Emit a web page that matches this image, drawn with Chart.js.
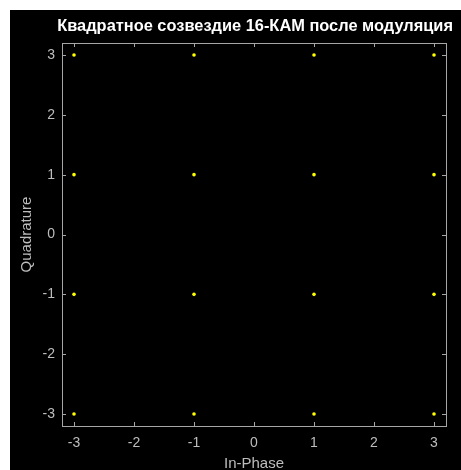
<!DOCTYPE html>
<html>
<head>
<meta charset="utf-8">
<script src="https://cdn.jsdelivr.net/npm/chart.js@4/dist/chart.umd.min.js"></script>
<style>
  html, body { margin: 0; padding: 0; background: #ffffff; overflow: hidden; }
  #wrap { position: absolute; left: 10px; top: 10px; width: 451px; height: 460px; background: #000000; }
  canvas { display: block; }
</style>
</head>
<body>
<div id="wrap"><canvas id="c" width="451" height="460"></canvas></div>
<script>
// 16-QAM constellation points (in-phase / quadrature components)
const inPhase    = [-3, -3, -3, -3, -1, -1, -1, -1,  1,  1,  1,  1,  3,  3,  3,  3];
const quadrature = [-3, -1,  1,  3, -3, -1,  1,  3, -3, -1,  1,  3, -3, -1,  1,  3];
const tickValues = [-3, -2, -1, 0, 1, 2, 3];
const axisMin = -3.2;
const axisMax = 3.2;

const titleText = 'Квадратное созвездие 16-КАМ после модуляция';
const xTitle = 'In-Phase';
const yTitle = 'Quadrature';

const axisColor = '#a6a6a6';
const labelColor = '#bdbdbd';
const fontFamily = 'Arial, "Liberation Sans", Helvetica, sans-serif';
const titleSize = 16.4;
const titlePadTop = 7;

const points = inPhase.map((v, i) => ({ x: v, y: quadrature[i] }));
const setTicks = scale => { scale.ticks = tickValues.map(v => ({ value: v })); };

// Inward-pointing tick marks on all four sides of the box
const innerTicks = {
  id: 'innerTicks',
  afterDraw(chart) {
    const { ctx, chartArea: a, scales } = chart;
    const len = 4;
    ctx.save();
    ctx.strokeStyle = axisColor;
    ctx.lineWidth = 1;
    ctx.beginPath();
    tickValues.forEach(v => {
      const px = Math.round(scales.x.getPixelForValue(v)) + 0.5;
      ctx.moveTo(px, a.bottom); ctx.lineTo(px, a.bottom - len);
      ctx.moveTo(px, a.top); ctx.lineTo(px, a.top + len);
      const py = Math.round(scales.y.getPixelForValue(v)) + 0.5;
      ctx.moveTo(a.left, py); ctx.lineTo(a.left + len, py);
      ctx.moveTo(a.right, py); ctx.lineTo(a.right - len, py);
    });
    ctx.stroke();
    ctx.restore();
  }
};

new Chart(document.getElementById('c'), {
  type: 'scatter',
  data: {
    datasets: [{
      data: points,
      backgroundColor: '#ffff00',
      borderWidth: 0,
      pointRadius: 1.8,
      pointHoverRadius: 1.8
    }]
  },
  options: {
    responsive: false,
    animation: false,
    layout: { padding: { left: 0, top: 0, bottom: 0, right: 8 } },
    plugins: {
      legend: { display: false },
      tooltip: { enabled: false },
      title: {
        display: true, text: titleText, color: '#ffffff', align: 'end',
        padding: { top: titlePadTop, bottom: 0 },
        font: { family: fontFamily, size: titleSize, weight: 'bold', lineHeight: 1.2 }
      }
    },
    scales: {
      x: {
        type: 'linear', position: 'bottom', min: axisMin, max: axisMax,
        afterBuildTicks: setTicks,
        afterFit: s => { s.height = 44; },
        grid: { display: false, drawTicks: false },
        border: { display: true, color: axisColor, width: 1 },
        ticks: { color: labelColor, padding: 9, font: { family: fontFamily, size: 14 } },
        title: { display: true, text: xTitle, color: labelColor, padding: { top: 0, bottom: 0 },
                 font: { family: fontFamily, size: 15, lineHeight: 0.8 } }
      },
      y: {
        type: 'linear', position: 'left', min: axisMin, max: axisMax,
        afterBuildTicks: setTicks,
        afterFit: s => { s.width = 52; },
        grid: { display: false, drawTicks: false },
        border: { display: true, color: axisColor, width: 1 },
        ticks: { color: labelColor, padding: 7, font: { family: fontFamily, size: 14 } },
        title: { display: true, text: yTitle, color: labelColor, padding: { top: 8, bottom: 0 },
                 font: { family: fontFamily, size: 15 } }
      },
      x2: {
        type: 'linear', position: 'top', min: axisMin, max: axisMax,
        afterBuildTicks: setTicks,
        afterFit: s => { s.height = 33 - (titlePadTop + titleSize * 1.2); },
        grid: { display: false, drawTicks: false },
        border: { display: true, color: axisColor, width: 1 },
        ticks: { display: false }
      },
      y2: {
        type: 'linear', position: 'right', min: axisMin, max: axisMax,
        afterBuildTicks: setTicks,
        afterFit: s => { s.width = 7; },
        grid: { display: false, drawTicks: false },
        border: { display: true, color: axisColor, width: 1 },
        ticks: { display: false }
      }
    }
  },
  plugins: [innerTicks]
});
</script>
</body>
</html>
